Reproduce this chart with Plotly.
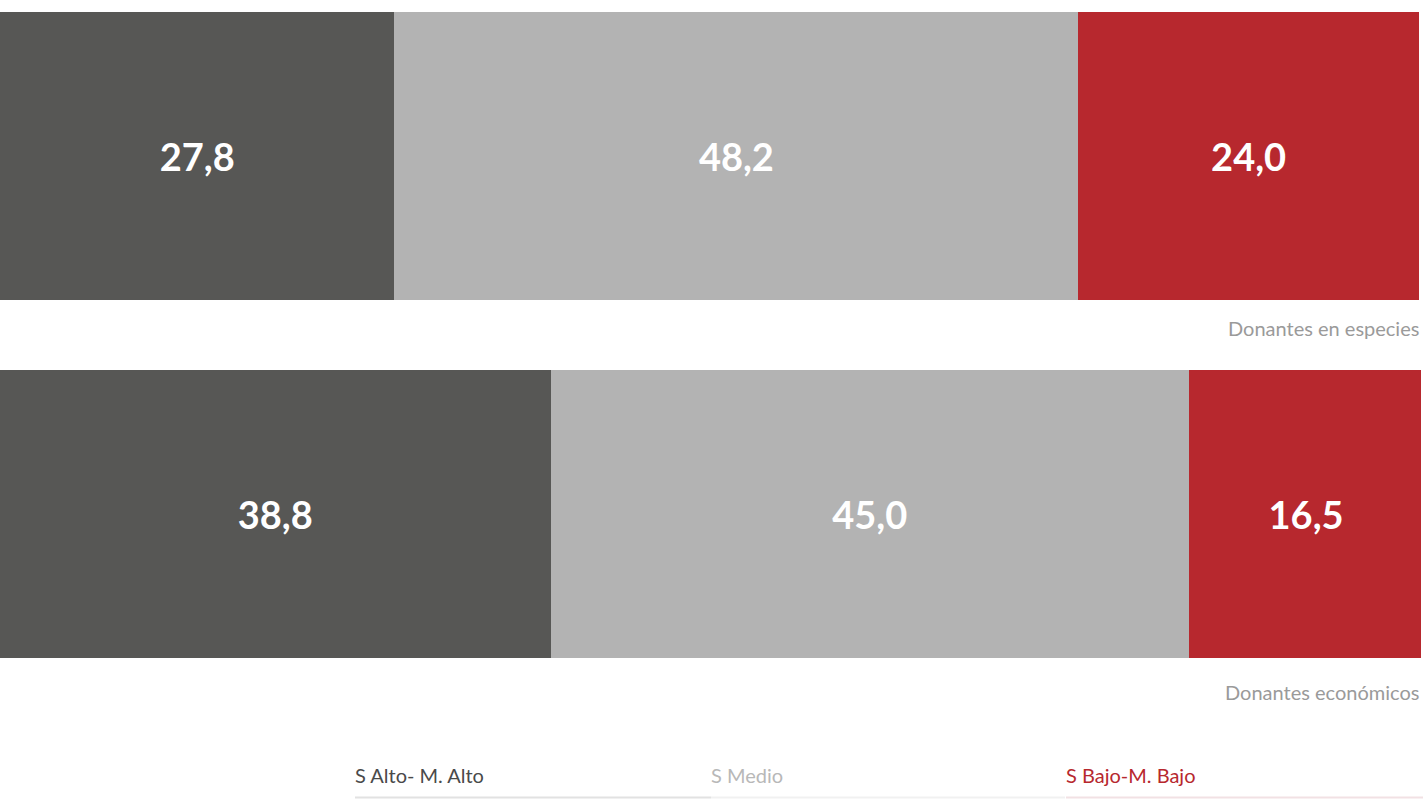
import plotly.graph_objects as go

categories = ["Donantes económicos", "Donantes en especies"]
series_names = ["S Alto- M. Alto", "S Medio", "S Bajo-M. Bajo"]
values_alto = [38.8, 27.8]
values_medio = [45.0, 48.2]
values_bajo = [16.5, 24.0]

colors = ["#575755", "#b3b3b3", "#b7282e"]
legend_text_colors = ["#4a4a4a", "#b8b8b8", "#b7282e"]
underline_colors = ["#e2e2e2", "#f1f1f1", "#f2e1e4"]

W, H = 1423, 799

def fmt(v):
    return f"{v:.1f}".replace(".", ",")

fig = go.Figure()
for name, vals, col in zip(series_names, [values_alto, values_medio, values_bajo], colors):
    fig.add_trace(go.Bar(
        y=[0, 1], x=vals, orientation="h", name=name,
        marker=dict(color=col, line=dict(width=0)),
        width=0.8045,
        text=[fmt(v) for v in vals], textposition="inside", insidetextanchor="middle",
        textfont=dict(family="Lato", size=38, color="white", weight="bold"),
        hoverinfo="skip", showlegend=False,
    ))

# category labels (right aligned under each bar)
label_pix_y = {0: 692, 1: 328}
for i, cat in enumerate(categories):
    fig.add_annotation(
        x=1421 / W, xref="paper", xanchor="right",
        y=1 - label_pix_y[i] / H, yref="paper", yanchor="middle",
        text=cat, showarrow=False,
        font=dict(family="Lato", size=20, color="#9a9a9a"),
    )

# custom legend
leg_x = [355, 711, 1066]
leg_end = [711, 1065, 1423]
for name, tc, uc, x0, x1 in zip(series_names, legend_text_colors, underline_colors, leg_x, leg_end):
    fig.add_annotation(
        x=(x0 - 2) / W, xref="paper", xanchor="left",
        y=1 - 775 / H, yref="paper", yanchor="middle",
        text=name, showarrow=False,
        font=dict(family="Lato", size=20, color=tc),
    )
    fig.add_shape(type="line", xref="paper", yref="paper",
                  x0=x0 / W, x1=x1 / W, y0=1 - 797.5 / H, y1=1 - 797.5 / H,
                  line=dict(color=uc, width=2))

fig.update_layout(
    width=W, height=H, barmode="stack",
    margin=dict(l=0, r=0, t=0, b=0),
    paper_bgcolor="white", plot_bgcolor="white",
    uniformtext=dict(mode="show", minsize=10),
    xaxis=dict(range=[0, 100.15], visible=False, domain=[0, 1421 / W], fixedrange=True),
    yaxis=dict(range=[-0.796, 1.436], visible=False, fixedrange=True),
    showlegend=False,
)

fig.write_html(
    "out.html",
    config={"displayModeBar": False},
    post_script="document.body.style.margin='0';document.body.style.overflow='hidden';",
)
